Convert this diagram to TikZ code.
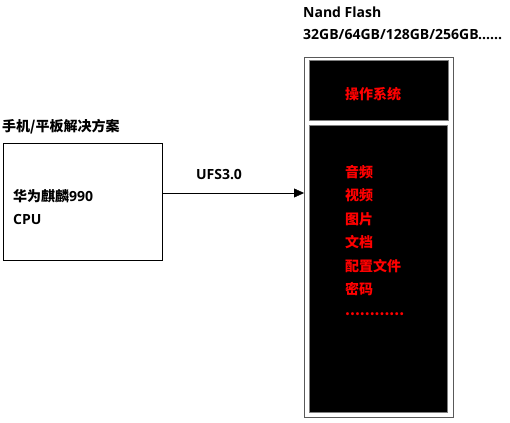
\documentclass[tikz,border=0pt]{standalone}
\usepackage{fontspec}
\setmainfont{Open Sans}
\newfontfamily\cjk{Noto Sans CJK SC}
\usetikzlibrary{arrows.meta}
\tikzset{>={Triangle[length=10pt,width=9pt]},font=\bfseries\fontsize{14}{16}\selectfont}
\tikzset{label/.style={anchor=west,inner sep=0pt},
  part/.style={fill=black,draw=gray,anchor=north west},
  item/.style={label,text=red,font=\cjk\bfseries\fontsize{14}{16}\selectfont}}

\begin{document}
\begin{tikzpicture}[x=1pt,y=-1pt]
\useasboundingbox (0,0) rectangle (510,422);
% storage side
\node[label] (nand) at (303,12) {Nand Flash};
\node[label] (size) at (303,35) {32GB/64GB/128GB/256GB......};
\node[draw=gray!70!black,anchor=north west,minimum width=149pt,minimum height=360pt] (flash) at (304,57) {};
\node[part,minimum width=139pt,minimum height=60pt] (os) at (309,60) {};
\node[item] (ostext) at (345,94) {操作系统};
\node[part,minimum width=138pt,minimum height=287pt] (data) at (309,125) {};
\foreach \t [count=\i] in {音频,视频,图片,文档,配置文件,密码}
  \node[item] (item\i) at (345,{172+23.5*(\i-1)}) {\t};
\node[item] (more) at (345,314) {............};
% host side
\node[label] (host) at (2,127) {{\cjk 手机/平板解决方案}};
\node[draw,anchor=north west,minimum width=159pt,minimum height=117pt] (cpu) at (3,143) {};
\node[label] (chip) at (13,196) {{\cjk 华为麒麟}990};
\node[label] (cpuname) at (13,219) {CPU};
\coordinate (in) at (304,193);
\path[->] (cpu.east |- in) edge (in);
\node (ufs) at (219,175) {UFS3.0};
\end{tikzpicture}
\end{document}
